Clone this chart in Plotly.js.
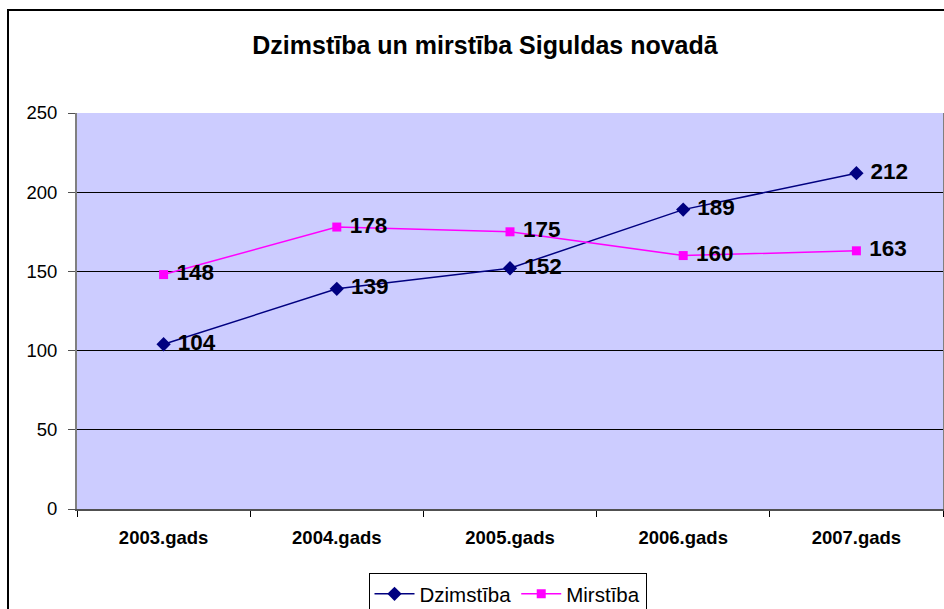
<!DOCTYPE html>
<html>
<head>
<meta charset="utf-8">
<script src="https://cdn.plot.ly/plotly-3.0.1.min.js"></script>
<style>html,body{margin:0;padding:0;background:#fff;}#chart{width:944px;height:609px;}</style>
</head>
<body>
<div id="chart"></div>
<script>
const categories = ["2003.gads", "2004.gads", "2005.gads", "2006.gads", "2007.gads"];
const dzimstiba = [104, 139, 152, 189, 212];
const mirstiba = [148, 178, 175, 160, 163];
const yTicks = [0, 50, 100, 150, 200, 250];

const labelFont = {family: "Liberation Sans, Arial, sans-serif", size: 22.5, color: "#000", weight: "bold"};

const traces = [
  {
    x: categories, y: dzimstiba, name: "Dzimstība", type: "scatter", mode: "lines+markers+text",
    line: {color: "#000080", width: 1.5},
    marker: {symbol: "diamond", size: 11, color: "#000080"},
    text: dzimstiba.map(v => " " + v), textposition: "middle right",
    textfont: labelFont, cliponaxis: false
  },
  {
    x: categories, y: mirstiba, name: "Mirstība", type: "scatter", mode: "lines+markers+text",
    line: {color: "#FF00FF", width: 1.5},
    marker: {symbol: "square", size: 9, color: "#FF00FF"},
    text: mirstiba.map(v => " " + v), textposition: "middle right",
    textfont: labelFont, cliponaxis: false
  }
];

const layout = {
  width: 944, height: 609,
  margin: {l: 77, r: 1, t: 113, b: 100},
  paper_bgcolor: "#ffffff",
  plot_bgcolor: "#CCCCFF",
  font: {family: "Liberation Sans, Arial, sans-serif", color: "#000"},
  title: {
    text: "<b>Dzimstība un mirstība Siguldas novadā</b>",
    font: {size: 25, family: "Liberation Sans, Arial, sans-serif", color: "#000"},
    x: 485 / 944, xref: "container", xanchor: "center",
    y: 1 - 45 / 609, yref: "container", yanchor: "middle"
  },
  xaxis: {
    type: "category", range: [-0.5, 4.5], tickson: "boundaries",
    ticks: "outside", ticklen: 6, tickcolor: "#000", tickwidth: 1,
    showline: true, linecolor: "#505050", linewidth: 2, mirror: false,
    showgrid: false, zeroline: false,
    tickfont: {size: 18.5, weight: "bold", family: "Liberation Sans, Arial, sans-serif", color: "#000"},
    ticklabelstandoff: 11,
    fixedrange: true
  },
  yaxis: {
    range: [0, 250], tickvals: yTicks, ticktext: yTicks.map(String),
    ticks: "outside", ticklen: 7, tickcolor: "#505050", tickwidth: 1,
    showline: true, linecolor: "#808080", linewidth: 2, mirror: true,
    showgrid: true, gridcolor: "#000000", gridwidth: 1, zeroline: false,
    tickfont: {size: 18.5, family: "Liberation Sans, Arial, sans-serif", color: "#000"},
    ticklabelstandoff: 7,
    fixedrange: true
  },
  showlegend: true,
  legend: {
    orientation: "h",
    x: 507.5 / 944, xref: "container", xanchor: "center",
    y: 1 - 573 / 609, yref: "container", yanchor: "top",
    bordercolor: "#000", borderwidth: 1, bgcolor: "#fff",
    font: {size: 20.5, family: "Liberation Sans, Arial, sans-serif", color: "#000"},
    traceorder: "normal", itemwidth: 40
  },
  shapes: [
    {type: "rect", xref: "paper", yref: "paper",
     x0: (8 - 77) / 866, x1: 1.2, y0: -1, y1: 1 + (113 - 10) / 396,
     line: {color: "#000", width: 2}, fillcolor: "rgba(0,0,0,0)", layer: "below"}
  ]
};

Plotly.newPlot("chart", traces, layout, {displayModeBar: false, staticPlot: true});
</script>
</body>
</html>
